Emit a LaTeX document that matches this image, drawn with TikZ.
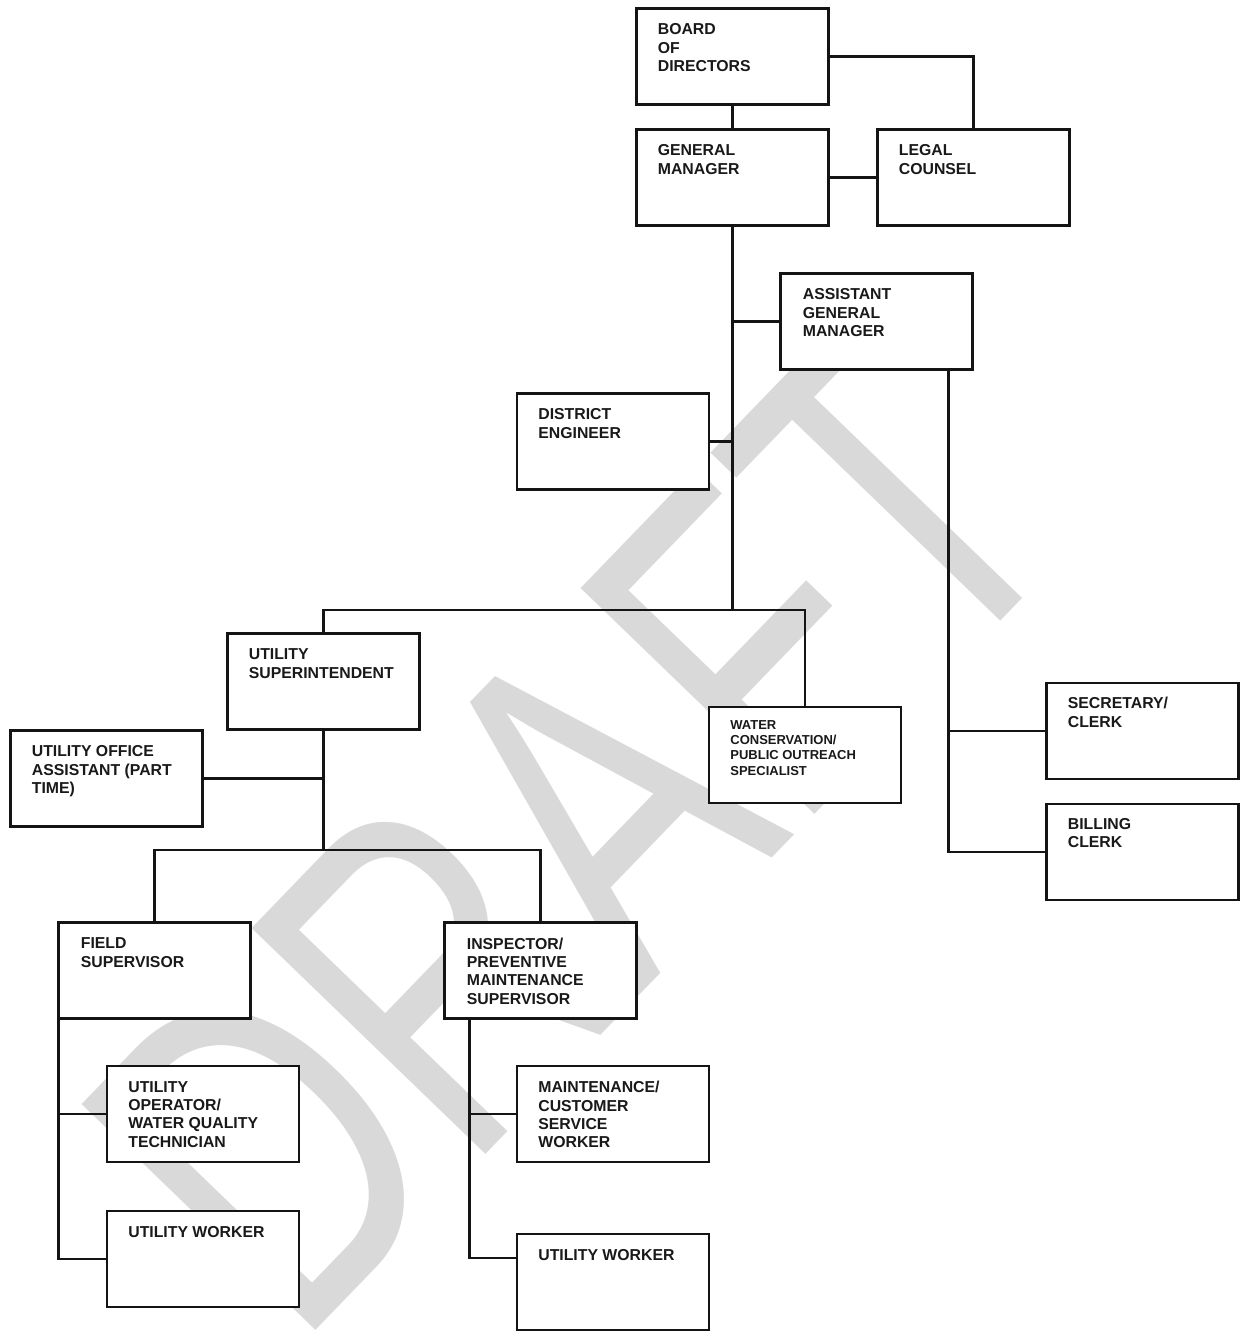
\documentclass[tikz,border=0pt]{standalone}
\usepackage{fontspec}
\setmainfont{Liberation Sans}
\newfontfamily\wmfont{Liberation Sans}
\usetikzlibrary{calc}
\newlength\pxu
\setlength\pxu{0.02cm}
\begin{document}
\begin{tikzpicture}[x=0.02cm, y=-0.02cm,
  orgbox/.style={draw=black!92, line width=1.2pt, fill=white, minimum width=192\pxu, minimum height=96\pxu, inner sep=0pt, outer sep=0pt},
  orgtext/.style={anchor=north west, inner sep=0pt, align=left, text=black!90, font=\bfseries\fontsize{9pt}{10.4pt}\selectfont},
  smalltext/.style={orgtext, font=\bfseries\fontsize{7.4pt}{8.7pt}\selectfont},
  link/.style={draw=black!92, line width=1.2pt},
  watermark/.style={rotate=46, anchor=base, inner sep=0pt, text=black!15, font={\wmfont\fontsize{269pt}{270pt}\selectfont}}]

\useasboundingbox[fill=white] (0,0) rectangle (1240,1331);

% watermark
\node[watermark] (draft) at (690,943) {\scalebox{0.72}[1]{DRAFT}};

% connector junctions
\coordinate (jtop) at (732.5,610);
\coordinate (jlow) at (323.5,850);

% boxes
\node[orgbox] (bod) at (732.5,56.5) {};
\node[orgbox] (gm) at (732.5,177.5) {};
\node[orgbox] (lc) at (973.5,177.5) {};
\node[orgbox] (agm) at (876.5,321.5) {};
\node[orgbox] (de) at (613,441.5) {};
\node[orgbox] (us) at (323.5,681.5) {};
\node[orgbox] (uoa) at (106.5,778.5) {};
\node[orgbox] (wc) at (805,755) {};
\node[orgbox] (sc) at (1142.5,731) {};
\node[orgbox] (bc) at (1142.5,852) {};
\node[orgbox] (fs) at (154.5,970.5) {};
\node[orgbox] (insp) at (540.5,970.5) {};
\node[orgbox] (uo) at (203,1114) {};
\node[orgbox] (uwa) at (203,1259) {};
\node[orgbox] (mcsw) at (613,1114) {};
\node[orgbox] (uwb) at (613,1282) {};

\coordinate (ib) at ($(insp.south west)+(25,0)$);
\coordinate (ab) at ($(agm.south east)+(-24,0)$);
\coordinate (uwbin) at ($(uwb.north west)+(0,24)$);

% connectors
\draw[link] (bod.south) -- (gm.north);
\draw[link] (bod.east) -| (lc.north);
\draw[link] (gm.east) -- (lc.west);
\draw[link] (gm.south) -- (jtop);
\draw[link] (agm.west) -- (agm.west -| gm.south);
\draw[link] (de.east) -- (de.east -| gm.south);
\draw[link] (us.north) |- (jtop) -| (wc.north);
\draw[link] (us.south) -- (jlow);
\draw[link] (uoa.east) -- (uoa.east -| us.south);
\draw[link] (fs.north) |- (jlow) -| (insp.north);
\draw[link] (fs.south west) |- (uwa.west);
\draw[link] (uo.west) -- (uo.west -| fs.south west);
\draw[link] (ib) |- (uwbin);
\draw[link] (mcsw.west) -- (mcsw.west -| ib);
\draw[link] (ab) |- (bc.west);
\draw[link] (sc.west) -- (sc.west -| ab);

% texts
\node[orgtext] (bodt) at ($(bod.north west)+(21,15)$) {BOARD\\OF\\DIRECTORS};
\node[orgtext] (gmt) at ($(gm.north west)+(21,15)$) {GENERAL\\MANAGER};
\node[orgtext] (lct) at ($(lc.north west)+(21,15)$) {LEGAL\\COUNSEL};
\node[orgtext] (agmt) at ($(agm.north west)+(22,15)$) {ASSISTANT\\GENERAL\\MANAGER};
\node[orgtext] (det) at ($(de.north west)+(21,15)$) {DISTRICT\\ENGINEER};
\node[orgtext] (ust) at ($(us.north west)+(21,15)$) {UTILITY\\SUPERINTENDENT};
\node[orgtext] (uoat) at ($(uoa.north west)+(21,15)$) {UTILITY OFFICE\\ASSISTANT (PART\\TIME)};
\node[smalltext] (wct) at ($(wc.north west)+(21,13)$) {WATER\\CONSERVATION/\\PUBLIC OUTREACH\\SPECIALIST};
\node[orgtext] (sct) at ($(sc.north west)+(21,14)$) {SECRETARY/\\CLERK};
\node[orgtext] (bct) at ($(bc.north west)+(21,14)$) {BILLING\\CLERK};
\node[orgtext] (fst) at ($(fs.north west)+(22,15)$) {FIELD\\SUPERVISOR};
\node[orgtext] (inspt) at ($(insp.north west)+(22,15)$) {INSPECTOR/\\PREVENTIVE\\MAINTENANCE\\SUPERVISOR};
\node[orgtext] (uot) at ($(uo.north west)+(21,15)$) {UTILITY\\OPERATOR/\\WATER QUALITY\\TECHNICIAN};
\node[orgtext] (uwat) at ($(uwa.north west)+(21,15)$) {UTILITY WORKER};
\node[orgtext] (mcswt) at ($(mcsw.north west)+(21,15)$) {MAINTENANCE/\\CUSTOMER\\SERVICE\\WORKER};
\node[orgtext] (uwbt) at ($(uwb.north west)+(21,15)$) {UTILITY WORKER};
\end{tikzpicture}
\end{document}
